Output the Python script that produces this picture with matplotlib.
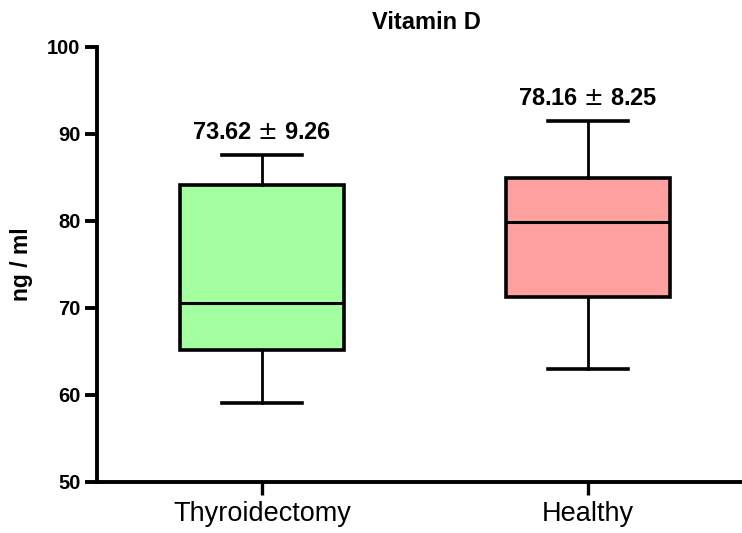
import matplotlib.pyplot as plt

plt.rcParams['font.family'] = ['Liberation Sans', 'DejaVu Sans']

groups = ['Thyroidectomy', 'Healthy']
whisker_low = [59.1, 63.0]
q1 = [65.2, 71.3]
medians = [70.5, 79.9]
q3 = [84.1, 84.9]
whisker_high = [87.6, 91.5]
box_colors = ['#a3ff9f', '#ffa0a0']
mean_sd = ['73.62 $\\pm$ 9.26', '78.16 $\\pm$ 8.25']

stats = []
for i in range(len(groups)):
    stats.append({'label': groups[i], 'whislo': whisker_low[i], 'q1': q1[i],
                  'med': medians[i], 'q3': q3[i], 'whishi': whisker_high[i]})

fig = plt.figure(figsize=(7.42, 5.33), dpi=100)
ax = fig.add_axes([97/742, 1 - 481.7/533, 1 - 97/742, (481.7 - 47)/533])

bp = ax.bxp(stats, positions=[0, 1], widths=0.503, showfliers=False,
            patch_artist=True, boxprops=dict(linewidth=2.6, edgecolor='black'),
            medianprops=dict(color='black', linewidth=2.2),
            whiskerprops=dict(color='black', linewidth=2),
            capprops=dict(color='black', linewidth=2.6), capwidths=0.245)
for patch, c in zip(bp['boxes'], box_colors):
    patch.set_facecolor(c)

for i in range(len(groups)):
    ax.text(i, whisker_high[i] + 1.8, mean_sd[i], ha='center', va='baseline',
            fontsize=17, fontweight='bold')

ax.set_xlim(-0.506, 1.472)
ax.set_ylim(50, 100)
ax.set_yticks([50, 60, 70, 80, 90, 100])
for s in ['top', 'right']:
    ax.spines[s].set_visible(False)
for s in ['left', 'bottom']:
    ax.spines[s].set_linewidth(2.8)
ax.tick_params(axis='y', width=2.8, length=9, labelsize=14.5, pad=3)
ax.tick_params(axis='x', width=2.4, length=9, labelsize=19.5, pad=5)
for lbl in ax.get_yticklabels():
    lbl.set_fontweight('bold')
ax.set_ylabel('ng / ml', fontsize=16.5, fontweight='bold', labelpad=10)
fig.text(426/742, 1 - 22/533, 'Vitamin D', ha='center', va='center',
         fontsize=17, fontweight='bold')

fig.savefig('out.png', dpi=100)
